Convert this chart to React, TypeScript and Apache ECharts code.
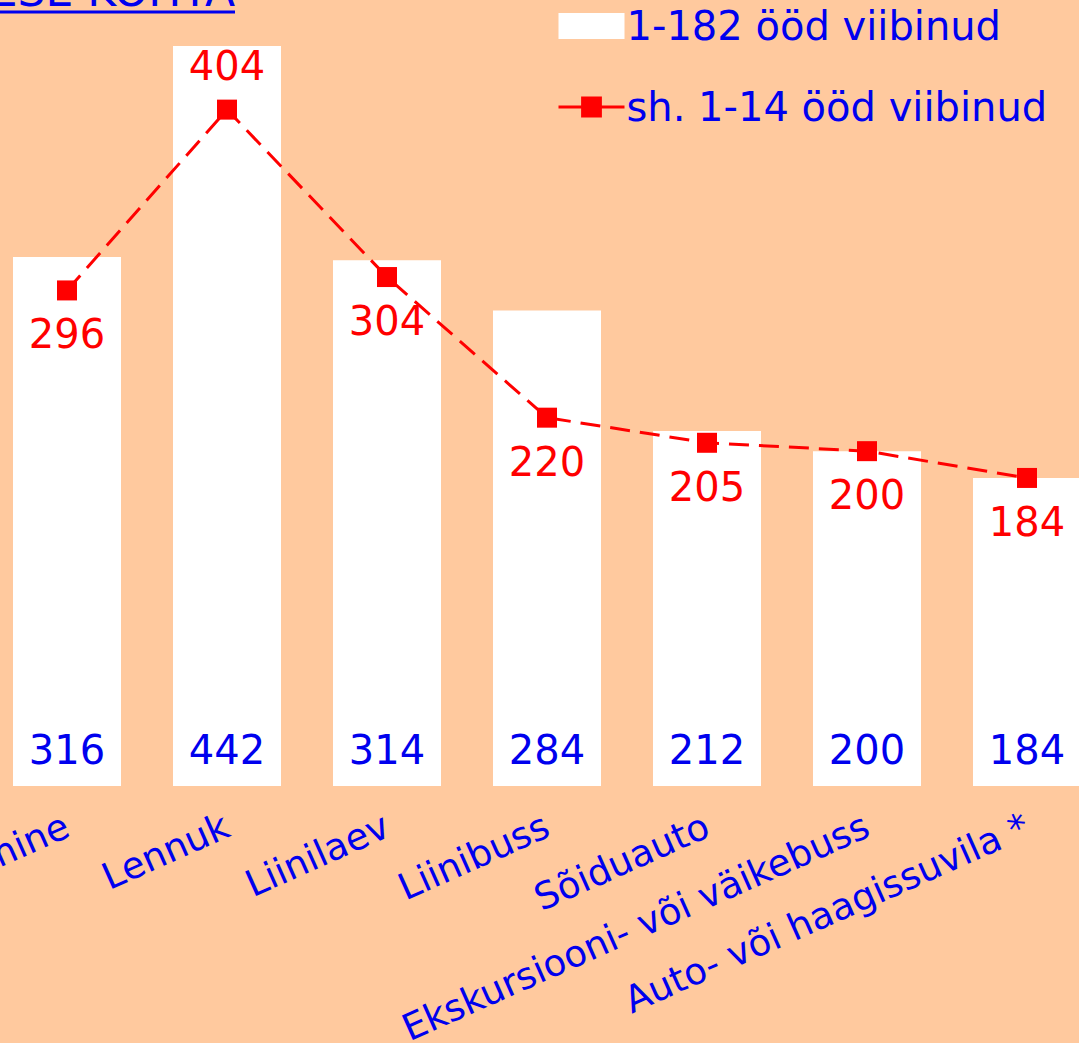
import React, { useEffect, useRef } from "react";
import * as echarts from "echarts";

const categories = [
  "Keskmine",
  "Lennuk",
  "Liinilaev",
  "Liinibuss",
  "Sõiduauto",
  "Ekskursiooni- või väikebuss",
  "Auto- või haagissuvila *",
];
const nights1to182 = [316, 442, 314, 284, 212, 200, 184];
const nights1to14 = [296, 404, 304, 220, 205, 200, 184];
const seriesNames = ["1-182 ööd viibinud", "sh. 1-14 ööd viibinud"];
const titleText = "INIMESE KOHTA";

const BLUE = "#0000EE";
const RED = "#FF0000";
const FONT = "'DejaVu Sans', sans-serif";

export default function App() {
  const ref = useRef<HTMLDivElement>(null);
  useEffect(() => {
    if (!ref.current) return;
    const chart = echarts.init(ref.current, undefined, { renderer: "svg" });
    chart.setOption({
      animation: false,
      backgroundColor: "#FFC99E",
      textStyle: { fontFamily: FONT },
      grid: {
        left: -13,
        right: -28,
        top: 46,
        bottom: 257,
        containLabel: false,
        outerBoundsMode: "none",
      },
      legend: {
        orient: "vertical",
        left: 557,
        top: 6,
        padding: 0,
        itemWidth: 66,
        itemHeight: 26,
        itemGap: 41,
        textStyle: { color: BLUE, fontSize: 40, fontFamily: FONT, lineHeight: 40, padding: [0, 0, 0, -3] },
        data: [
          { name: seriesNames[0], icon: "rect", itemStyle: { color: "#FFFFFF" } },
          { name: seriesNames[1], lineStyle: { type: "solid", width: 3 } },
        ],
      },
      xAxis: {
        type: "category",
        data: categories,
        axisLine: { show: false },
        axisTick: { show: false },
        axisLabel: {
          rotate: 24,
          margin: 38,
          interval: 0,
          color: BLUE,
          fontSize: 37,
          fontFamily: FONT,
        },
      },
      yAxis: {
        type: "value",
        min: 0,
        max: 442,
        show: false,
        splitLine: { show: false },
      },
      series: [
        {
          name: seriesNames[0],
          type: "bar",
          data: nights1to182,
          barWidth: 108,
          itemStyle: { color: "#FFFFFF" },
          label: {
            show: true,
            position: "insideBottom",
            distance: 16,
            color: BLUE,
            fontSize: 40,
            fontFamily: FONT,
          },
        },
        {
          name: seriesNames[1],
          type: "line",
          data: nights1to14.map((v, i) =>
            i === 1 ? { value: v, label: { position: "top", distance: 14 } } : v
          ),
          symbol: "rect",
          symbolSize: 20,
          itemStyle: { color: RED },
          lineStyle: { color: RED, width: 3, type: [20, 10] },
          label: {
            show: true,
            position: "bottom",
            distance: 14,
            color: RED,
            fontSize: 40,
            fontFamily: FONT,
          },
        },
      ],
      graphic: [
        {
          type: "text",
          right: 1079 - 235,
          top: -32,
          style: {
            text: titleText,
            fill: BLUE,
            font: `44px ${FONT}`,
          },
        },
        {
          type: "line",
          shape: { x1: 0, y1: 12, x2: 235, y2: 12 },
          style: { stroke: BLUE, lineWidth: 3 },
        },
      ],
    });
    return () => chart.dispose();
  }, []);
  return (
    <div style={{ position: "absolute", left: 0, top: 0, width: 1079, height: 1043, overflow: "hidden" }}>
      <div ref={ref} style={{ width: 1079, height: 1043 }} />
    </div>
  );
}
